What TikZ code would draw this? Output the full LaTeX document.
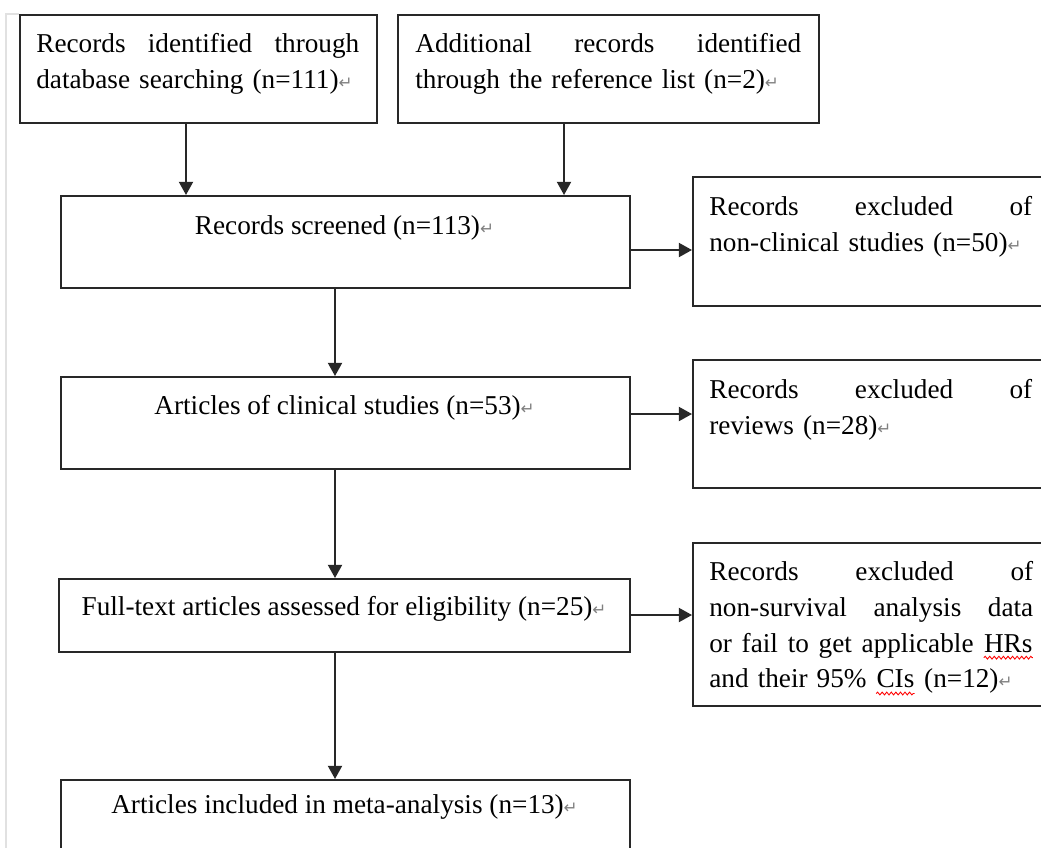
\documentclass[tikz,border=0pt]{standalone}
\usepackage{fontspec}
\setmainfont{Liberation Serif}
\newfontfamily\symfont{DejaVu Sans}
\usetikzlibrary{arrows.meta, decorations.pathmorphing}
\definecolor{linegray}{RGB}{40, 40, 40}
\definecolor{marginGray}{RGB}{225, 225, 225}
\newcommand{\retmark}{{\color{gray}\symfont\fontsize{9.5}{9.5}\selectfont ↵}}
\newcommand{\redwave}[1]{\tikz[baseline=(w.base)]{%
  \node[inner sep=0pt] (w) {#1};
  \draw[red, line width=0.5pt, decorate,
        decoration={snake, amplitude=0.8pt, segment length=2.6pt}]
    ([yshift=-2.8pt]w.south west) -- ([yshift=-2.8pt]w.south east);}}

\begin{document}
\begin{tikzpicture}[
  x=0.02cm, y=-0.02cm,
  box/.style={draw=linegray, line width=1.1pt, anchor=north west,
              inner sep=0pt},
  txt/.style={anchor=north west, inner sep=0pt, align=left,
              font=\fontsize{15.5}{20.4}\selectfont},
  ctxt/.style={anchor=base, inner sep=0pt,
               font=\fontsize{15.5}{20.4}\selectfont},
  arr/.style={line width=1.1pt, draw=linegray,
              -{Triangle[length=7.5pt, width=8pt]}},
]
\useasboundingbox (0,0) rectangle (1041,848);
\clip (0,0) rectangle (1041,848);

% Page margin
\draw[marginGray, line width=0.8pt] (6,848) -- (6,14) -- (19,14);

% Identification
\node[box, minimum width=7.14cm, minimum height=2.16cm] (recA) at (19,14) {};
\node[txt, text width=6.46cm] (recAtxt) at (36,27)
  {\strut Records\hfill identified\hfill through\\database searching (n=111)\retmark};
\node[box, minimum width=8.42cm, minimum height=2.16cm] (recB) at (397,14) {};
\node[txt, text width=7.72cm] (recBtxt) at (415,27)
  {\strut Additional\hfill records\hfill identified\\through the reference list (n=2)\retmark};

% Main column
\node[box, minimum width=11.38cm, minimum height=1.84cm] (scr) at (60,195) {};
\node[ctxt] (scrtxt) at (344.5,234) {Records screened (n=113)\retmark};
\node[box, minimum width=11.38cm, minimum height=1.84cm] (cli) at (60,376) {};
\node[ctxt] (clitxt) at (344.5,414) {Articles of clinical studies (n=53)\retmark};
\node[box, minimum width=11.42cm, minimum height=1.46cm] (ful) at (58,578) {};
\node[ctxt] (fultxt) at (344,615)
  {Full-text articles assessed for eligibility (n=25)\retmark};
\node[box, minimum width=11.38cm, minimum height=2.0cm] (fin) at (60,779) {};
\node[ctxt] (fintxt) at (344.5,813)
  {Articles included in meta-analysis (n=13)\retmark};

% Exclusions
\node[box, minimum width=7.2cm, minimum height=2.58cm] (exA) at (692,176) {};
\node[txt, text width=6.46cm] (exAtxt) at (709,190)
  {\strut Records\hfill excluded\hfill of\\non-clinical studies (n=50)\retmark};
\node[box, minimum width=7.2cm, minimum height=2.56cm] (exB) at (692,359) {};
\node[txt, text width=6.46cm] (exBtxt) at (709,373)
  {\strut Records\hfill excluded\hfill of\\reviews (n=28)\retmark};
\node[box, minimum width=7.2cm, minimum height=3.26cm] (exC) at (692,542) {};
\node[txt, text width=6.48cm] (exCtxt) at (709,555)
  {\strut Records\hfill excluded\hfill of\\
   non-survival\hfill analysis\hfill data\\
   or\hfill fail\hfill to\hfill get\hfill applicable\hfill \redwave{HRs}\\
   and their 95\% \redwave{CIs} (n=12)\retmark};

% Arrow lanes
\coordinate (ca) at (186,0);
\coordinate (cb) at (564,0);
\coordinate (cv) at (335,0);
\coordinate (h1) at (0,250);
\coordinate (h2) at (0,414);
\coordinate (h3) at (0,615);

% Arrows
\draw[arr] (recA.south -| ca) -- (scr.north -| ca);
\draw[arr] (recB.south -| cb) -- (scr.north -| cb);
\draw[arr] (scr.south -| cv) -- (cli.north -| cv);
\draw[arr] (cli.south -| cv) -- (ful.north -| cv);
\draw[arr] (ful.south -| cv) -- (fin.north -| cv);
\draw[arr] (scr.east |- h1) -- (exA.west |- h1);
\draw[arr] (cli.east |- h2) -- (exB.west |- h2);
\draw[arr] (ful.east |- h3) -- (exC.west |- h3);
\end{tikzpicture}
\end{document}
